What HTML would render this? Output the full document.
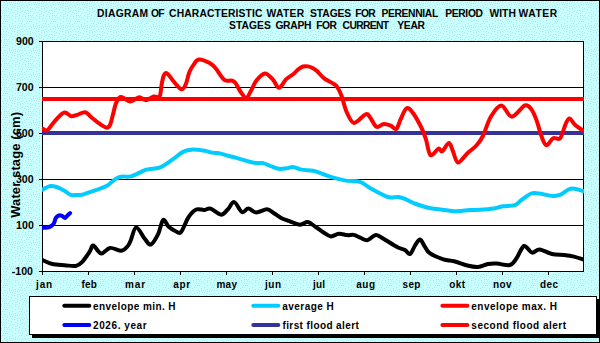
<!DOCTYPE html>
<html><head><meta charset="utf-8"><style>
html,body{margin:0;padding:0;width:600px;height:343px;overflow:hidden;background:#C6FBFC;}
svg{display:block;}
</style></head><body>
<svg width="600" height="343" viewBox="0 0 600 343">
<defs><clipPath id="pc"><rect x="42" y="41" width="542" height="231"/></clipPath></defs>
<rect x="0" y="0" width="600" height="343" fill="#000"/>
<defs><pattern id="bgp" width="24" height="24" patternUnits="userSpaceOnUse"><rect width="24" height="24" fill="#C8FFFF"/><path d="M0 0h1v1h-1zM0 6h1v1h-1zM0 12h1v1h-1zM1 2h1v1h-1zM1 10h1v1h-1zM1 16h1v1h-1zM1 18h1v1h-1zM2 5h1v1h-1zM2 13h1v1h-1zM2 23h1v1h-1zM3 7h1v1h-1zM3 10h1v1h-1zM3 21h1v1h-1zM4 2h1v1h-1zM4 13h1v1h-1zM4 15h1v1h-1zM4 17h1v1h-1zM4 19h1v1h-1zM4 23h1v1h-1zM5 4h1v1h-1zM5 21h1v1h-1zM6 1h1v1h-1zM6 7h1v1h-1zM6 9h1v1h-1zM6 11h1v1h-1zM6 15h1v1h-1zM6 19h1v1h-1zM7 3h1v1h-1zM7 5h1v1h-1zM7 17h1v1h-1zM7 21h1v1h-1zM8 8h1v1h-1zM8 15h1v1h-1zM9 0h1v1h-1zM9 2h1v1h-1zM9 13h1v1h-1zM9 17h1v1h-1zM9 19h1v1h-1zM10 4h1v1h-1zM11 2h1v1h-1zM11 9h1v1h-1zM11 18h1v1h-1zM12 4h1v1h-1zM12 7h1v1h-1zM12 12h1v1h-1zM12 15h1v1h-1zM12 20h1v1h-1zM12 23h1v1h-1zM13 2h1v1h-1zM14 5h1v1h-1zM14 7h1v1h-1zM14 12h1v1h-1zM15 1h1v1h-1zM15 3h1v1h-1zM15 10h1v1h-1zM15 14h1v1h-1zM15 16h1v1h-1zM15 18h1v1h-1zM15 21h1v1h-1zM17 3h1v1h-1zM17 6h1v1h-1zM17 8h1v1h-1zM17 11h1v1h-1zM17 13h1v1h-1zM17 16h1v1h-1zM18 1h1v1h-1zM18 18h1v1h-1zM18 20h1v1h-1zM19 3h1v1h-1zM19 6h1v1h-1zM19 15h1v1h-1zM19 23h1v1h-1zM20 8h1v1h-1zM20 10h1v1h-1zM20 12h1v1h-1zM20 20h1v1h-1zM21 5h1v1h-1zM21 23h1v1h-1zM22 2h1v1h-1zM22 7h1v1h-1zM22 11h1v1h-1zM22 16h1v1h-1zM22 19h1v1h-1zM22 21h1v1h-1zM23 4h1v1h-1zM23 14h1v1h-1z" fill="#B4E6F0"/></pattern></defs>
<rect x="1" y="1" width="598" height="341" fill="url(#bgp)"/>
<rect x="42" y="41" width="541" height="230" fill="#fff"/>
<rect x="42" y="41" width="542" height="1" fill="#000"/>
<rect x="42" y="87" width="542" height="1" fill="#000"/>
<rect x="42" y="133" width="542" height="1" fill="#000"/>
<rect x="42" y="179" width="542" height="1" fill="#000"/>
<rect x="42" y="225" width="542" height="1" fill="#000"/>
<rect x="42" y="271" width="542" height="1" fill="#000"/>
<rect x="42" y="41" width="1" height="231" fill="#000"/>
<rect x="583" y="41" width="1" height="231" fill="#000"/>
<rect x="39" y="41" width="3" height="1" fill="#000"/>
<rect x="39" y="87" width="3" height="1" fill="#000"/>
<rect x="39" y="133" width="3" height="1" fill="#000"/>
<rect x="39" y="179" width="3" height="1" fill="#000"/>
<rect x="39" y="225" width="3" height="1" fill="#000"/>
<rect x="39" y="271" width="3" height="1" fill="#000"/>
<rect x="42" y="272" width="1" height="3" fill="#000"/>
<rect x="88" y="272" width="1" height="3" fill="#000"/>
<rect x="134" y="272" width="1" height="3" fill="#000"/>
<rect x="180" y="272" width="1" height="3" fill="#000"/>
<rect x="226" y="272" width="1" height="3" fill="#000"/>
<rect x="272" y="272" width="1" height="3" fill="#000"/>
<rect x="318" y="272" width="1" height="3" fill="#000"/>
<rect x="364" y="272" width="1" height="3" fill="#000"/>
<rect x="410" y="272" width="1" height="3" fill="#000"/>
<rect x="456" y="272" width="1" height="3" fill="#000"/>
<rect x="502" y="272" width="1" height="3" fill="#000"/>
<rect x="548" y="272" width="1" height="3" fill="#000"/>
<g clip-path="url(#pc)" fill="none" stroke-width="4" stroke-linejoin="round" stroke-linecap="round">
<path d="M42,133 L584,133" stroke="#333399" stroke-linecap="butt"/>
<path d="M42,99 L584,99" stroke="#FF0000" stroke-linecap="butt"/>
<path d="M42.6,189.6 C43.8,189.0 47.3,186.5 49.6,186.1 C51.9,185.7 54.1,186.2 56.6,187.0 C59.1,187.8 62.2,189.5 64.5,190.8 C66.8,192.1 68.7,194.1 70.6,194.8 C72.5,195.5 74.1,195.0 76.0,195.0 C77.9,195.0 79.3,195.4 82.0,194.8 C84.7,194.2 88.3,192.8 92.4,191.3 C96.5,189.9 102.6,188.1 106.4,186.1 C110.2,184.1 112.6,180.7 115.2,179.1 C117.8,177.5 119.6,176.9 122.2,176.5 C124.8,176.1 127.0,177.5 131.0,176.4 C135.0,175.3 141.7,171.2 146.4,169.7 C151.2,168.2 155.3,169.2 159.5,167.6 C163.7,166.0 167.8,162.7 171.7,160.1 C175.6,157.5 179.6,153.7 183.1,151.9 C186.6,150.2 189.1,149.8 192.7,149.6 C196.3,149.4 201.7,150.3 204.9,150.8 C208.1,151.3 209.3,152.1 211.9,152.6 C214.5,153.1 218.1,153.1 220.7,153.6 C223.3,154.1 225.2,155.0 227.7,155.7 C230.2,156.4 232.0,156.6 235.5,157.6 C239.0,158.6 245.2,160.6 248.7,161.5 C252.2,162.4 254.1,162.8 256.5,163.1 C258.9,163.4 260.7,162.6 263.1,163.1 C265.5,163.6 268.3,165.2 270.9,166.2 C273.5,167.1 276.2,168.5 278.8,168.8 C281.4,169.2 284.3,168.6 286.7,168.3 C289.1,168.0 290.8,166.8 293.2,167.0 C295.6,167.2 297.8,169.0 301.1,169.6 C304.4,170.2 309.8,170.1 313.1,170.7 C316.4,171.3 317.9,172.2 321.0,173.3 C324.1,174.4 327.4,176.0 331.5,177.2 C335.6,178.4 341.1,179.8 345.9,180.6 C350.6,181.4 355.9,180.5 360.0,181.8 C364.1,183.1 366.2,186.0 370.8,188.5 C375.4,191.0 383.2,195.6 387.8,197.0 C392.4,198.4 395.3,196.6 398.3,197.0 C401.3,197.4 403.1,198.2 406.0,199.4 C408.9,200.6 412.2,202.6 416.0,204.0 C419.8,205.4 424.9,207.1 429.0,208.0 C433.1,208.9 436.1,208.9 440.7,209.5 C445.3,210.1 451.8,211.2 456.7,211.3 C461.6,211.4 466.1,210.2 470.0,210.0 C473.9,209.8 476.0,210.0 480.0,209.8 C484.0,209.6 490.1,209.2 493.9,208.6 C497.6,208.0 499.0,206.9 502.5,206.3 C506.0,205.7 511.5,206.2 514.7,205.1 C517.9,204.0 518.9,201.8 521.6,199.9 C524.3,198.0 528.2,194.6 531.1,193.5 C534.0,192.4 535.3,193.1 538.9,193.5 C542.5,193.9 549.2,195.7 552.8,195.9 C556.4,196.1 558.0,195.8 560.6,194.7 C563.2,193.6 566.1,190.5 568.4,189.5 C570.7,188.5 571.9,188.4 574.5,188.7 C577.1,189.0 582.4,190.9 584.0,191.3" stroke="#00CCFF"/>
<path d="M42.6,260.1 C44.2,260.8 48.6,263.1 52.2,264.0 C55.9,264.9 60.6,264.9 64.5,265.2 C68.4,265.5 72.9,266.5 75.8,266.0 C78.7,265.5 79.7,264.6 82.0,262.2 C84.3,259.8 87.9,254.2 89.8,251.4 C91.7,248.6 91.4,245.2 93.3,245.6 C95.2,245.9 98.4,253.1 101.2,253.5 C104.0,253.9 106.7,248.3 110.0,247.9 C113.3,247.5 118.4,251.0 121.3,250.8 C124.2,250.6 125.9,248.1 127.4,246.5 C128.9,244.9 129.0,244.2 130.5,241.0 C132.0,237.8 133.8,227.8 136.2,227.5 C138.6,227.2 142.5,236.2 144.9,239.0 C147.3,241.8 148.6,245.3 150.8,244.5 C153.0,243.7 155.9,238.4 158.0,234.3 C160.1,230.2 161.4,221.2 163.2,219.9 C164.9,218.6 166.5,224.7 168.5,226.5 C170.5,228.3 173.1,230.1 175.2,231.0 C177.3,231.9 178.8,234.3 181.0,232.0 C183.2,229.7 185.9,221.1 188.4,217.3 C190.9,213.6 193.6,210.7 196.2,209.5 C198.8,208.3 201.7,210.1 204.1,210.0 C206.5,209.9 207.8,207.9 210.6,208.7 C213.4,209.5 218.2,214.6 221.1,214.7 C223.9,214.8 225.5,211.6 227.7,209.5 C229.9,207.4 231.8,201.7 234.2,202.1 C236.6,202.5 239.6,210.9 242.0,212.0 C244.4,213.1 246.0,208.5 248.4,208.6 C250.8,208.7 253.1,212.4 256.2,212.5 C259.3,212.6 264.1,209.2 267.0,209.3 C269.9,209.4 271.3,211.6 273.6,213.0 C275.9,214.4 278.1,216.3 280.7,217.7 C283.3,219.1 286.2,220.0 289.4,221.2 C292.6,222.4 296.9,224.5 300.0,224.7 C303.1,224.8 305.2,221.7 307.8,222.1 C310.4,222.5 313.1,225.3 315.7,227.0 C318.3,228.7 321.1,230.9 323.6,232.5 C326.1,234.1 328.4,236.2 330.9,236.4 C333.4,236.6 336.1,234.0 338.8,233.8 C341.5,233.6 344.7,234.9 347.2,235.1 C349.7,235.3 351.5,234.5 353.7,234.9 C355.9,235.3 358.0,236.8 360.3,237.7 C362.6,238.6 365.0,240.6 367.6,240.1 C370.2,239.6 373.3,235.1 376.0,234.9 C378.7,234.7 380.4,237.0 383.9,239.0 C387.4,241.0 393.5,245.1 397.0,246.9 C400.5,248.8 402.7,248.9 404.9,250.1 C407.1,251.3 408.4,254.9 410.1,254.0 C411.9,253.1 413.7,247.2 415.4,244.8 C417.1,242.4 418.6,239.4 420.1,239.6 C421.6,239.8 422.9,243.8 424.5,246.1 C426.1,248.4 426.7,251.0 429.8,253.2 C432.9,255.4 439.3,258.0 443.3,259.3 C447.3,260.6 450.0,260.2 454.0,261.2 C458.0,262.2 463.3,264.5 467.3,265.5 C471.3,266.5 474.6,267.2 478.0,267.0 C481.4,266.8 484.8,264.6 488.0,264.0 C491.2,263.4 493.3,263.4 497.0,263.6 C500.7,263.8 506.7,265.9 510.0,265.0 C513.3,264.1 514.4,261.2 516.7,258.0 C519.0,254.8 521.5,246.9 524.0,246.0 C526.5,245.1 529.4,252.0 532.0,252.6 C534.6,253.2 536.3,249.2 539.6,249.4 C542.9,249.6 547.9,253.1 552.0,254.0 C556.1,254.9 560.3,254.6 564.0,255.0 C567.7,255.4 570.8,255.8 574.0,256.6 C577.2,257.4 581.9,259.1 583.5,259.6" stroke="#000000"/>
<path d="M42.6,128.5 C43.4,128.8 45.3,131.4 47.3,130.2 C49.3,129.0 51.8,124.2 54.6,121.3 C57.4,118.4 61.2,113.4 64.0,112.6 C66.8,111.8 69.1,115.8 71.3,116.2 C73.5,116.6 74.9,115.5 77.2,114.8 C79.5,114.1 82.9,111.8 85.2,112.2 C87.5,112.6 88.8,115.2 91.0,117.0 C93.2,118.8 95.8,121.0 98.3,122.8 C100.8,124.6 104.3,127.2 106.3,127.6 C108.2,128.0 108.9,127.1 110.0,125.0 C111.1,122.9 111.9,118.3 112.9,114.8 C113.9,111.3 114.7,106.7 115.8,103.8 C116.9,100.9 118.3,98.7 119.4,97.6 C120.5,96.5 120.6,96.7 122.4,97.3 C124.2,97.9 127.6,101.4 130.4,101.4 C133.2,101.4 136.6,97.5 139.2,97.3 C141.8,97.1 143.3,100.3 145.7,100.2 C148.1,100.1 151.4,97.1 153.7,96.5 C156.0,95.9 158.3,98.5 159.6,96.5 C160.9,94.5 161.0,87.6 161.7,84.2 C162.4,80.8 162.7,77.8 163.6,76.0 C164.5,74.2 165.2,72.2 166.9,73.2 C168.7,74.2 171.7,79.3 174.1,82.0 C176.5,84.7 179.4,88.9 181.4,89.3 C183.4,89.7 184.5,87.1 185.8,84.2 C187.1,81.3 188.1,75.2 189.4,71.9 C190.7,68.6 192.1,66.7 193.7,64.6 C195.3,62.5 196.1,59.8 198.8,59.5 C201.5,59.2 207.0,61.6 209.8,63.1 C212.6,64.5 213.2,65.4 215.6,68.2 C218.0,71.0 221.7,77.8 224.4,79.9 C227.1,82.0 229.8,80.1 231.6,80.6 C233.4,81.1 233.8,81.0 235.3,82.8 C236.8,84.6 238.6,89.0 240.4,91.5 C242.2,94.0 244.5,98.1 246.2,98.1 C247.9,98.1 248.9,94.4 250.6,91.5 C252.3,88.6 254.0,83.6 256.4,80.6 C258.8,77.6 262.2,73.6 265.0,73.5 C267.8,73.4 270.8,77.4 273.1,79.8 C275.4,82.2 276.8,87.9 279.0,87.8 C281.2,87.7 283.8,81.4 286.2,79.1 C288.6,76.8 291.5,75.6 293.5,74.0 C295.5,72.4 296.4,70.8 298.0,69.5 C299.6,68.2 301.3,67.0 303.0,66.5 C304.7,66.0 306.4,66.1 308.1,66.4 C309.8,66.7 311.5,67.5 313.0,68.3 C314.5,69.1 315.0,69.3 316.9,71.0 C318.8,72.7 321.4,76.2 324.1,78.3 C326.8,80.4 330.7,81.9 332.9,83.4 C335.1,84.9 335.9,85.0 337.3,87.1 C338.8,89.2 340.0,91.8 341.6,96.0 C343.2,100.2 344.6,107.6 346.7,112.1 C348.8,116.6 350.9,122.5 354.0,122.9 C357.1,123.3 362.9,115.2 365.6,114.3 C368.3,113.3 368.2,115.1 370.0,117.2 C371.8,119.3 374.2,125.7 376.5,126.8 C378.8,127.9 381.5,124.1 383.8,123.9 C386.1,123.7 388.3,124.6 390.4,125.4 C392.5,126.2 394.5,130.0 396.2,129.0 C397.9,128.0 398.9,122.8 400.6,119.4 C402.3,116.0 404.4,109.6 406.4,108.4 C408.3,107.2 409.9,109.2 412.3,112.1 C414.7,115.0 418.3,121.5 420.6,126.0 C422.9,130.5 424.2,134.2 425.9,139.1 C427.5,144.0 428.4,153.6 430.5,155.2 C432.6,156.8 436.4,149.3 438.4,148.7 C440.4,148.0 440.6,152.3 442.3,151.3 C444.0,150.3 447.1,143.0 448.8,142.9 C450.6,142.8 451.3,147.5 452.8,150.8 C454.3,154.1 455.6,162.1 458.0,162.5 C460.4,162.9 464.1,156.2 467.2,153.4 C470.3,150.6 473.8,148.4 476.4,145.5 C479.0,142.6 480.5,140.8 482.9,136.0 C485.3,131.2 487.7,121.8 490.8,116.7 C493.9,111.6 497.8,105.4 501.3,105.4 C504.8,105.4 507.9,116.7 511.8,116.7 C515.7,116.7 521.6,106.6 524.9,105.4 C528.2,104.2 529.6,107.0 531.6,109.6 C533.6,112.2 535.0,116.2 536.7,120.8 C538.4,125.4 540.2,133.0 541.8,137.1 C543.4,141.2 544.6,145.1 546.5,145.3 C548.4,145.5 550.8,139.4 553.1,138.2 C555.4,137.0 558.2,140.4 560.2,138.2 C562.2,136.0 563.8,128.2 565.3,124.9 C566.8,121.6 567.7,118.3 569.4,118.4 C571.1,118.5 573.2,123.3 575.5,125.3 C577.8,127.3 581.8,129.6 583.0,130.5" stroke="#FF0000"/>
<path d="M42.6,227.8 C43.4,227.8 45.8,227.9 47.2,227.6 C48.7,227.3 50.2,226.7 51.3,226.0 C52.4,225.3 53.0,224.8 53.8,223.5 C54.6,222.2 55.0,219.3 55.9,217.9 C56.8,216.5 57.9,215.7 58.9,215.3 C59.9,215.0 61.0,215.4 62.0,215.8 C63.0,216.2 64.1,218.0 65.0,217.9 C65.9,217.8 66.8,216.1 67.6,215.3 C68.4,214.5 69.7,213.5 70.1,213.1" stroke="#0000FF"/>
</g>
<g font-family='"Liberation Sans", sans-serif' font-weight="bold" fill="#000">
<text x="97.05" y="16.7" font-size="10.3" letter-spacing="0.325">DIAGRAM</text>
<text x="151.00" y="16.7" font-size="10.3" letter-spacing="-0.7">OF</text>
<text x="169.10" y="16.7" font-size="10.3" letter-spacing="0.14">CHARACTERISTIC</text>
<text x="266.50" y="16.7" font-size="10.3" letter-spacing="0.29">WATER</text>
<text x="310.10" y="16.7" font-size="10.3" letter-spacing="-0.09">STAGES</text>
<text x="355.25" y="16.7" font-size="10.3" letter-spacing="-0.62">FOR</text>
<text x="381.45" y="16.7" font-size="10.3" letter-spacing="-0.34">PERENNIAL</text>
<text x="445.25" y="16.7" font-size="10.3" letter-spacing="-0.35">PERIOD</text>
<text x="489.50" y="16.7" font-size="10.3" letter-spacing="0.02">WITH</text>
<text x="518.50" y="16.7" font-size="10.3" letter-spacing="0.54">WATER</text>
<text x="229.00" y="28.6" font-size="10.3" letter-spacing="0.07">STAGES</text>
<text x="275.40" y="28.6" font-size="10.3" letter-spacing="-0.28">GRAPH</text>
<text x="316.25" y="28.6" font-size="10.3" letter-spacing="-0.47">FOR</text>
<text x="342.60" y="28.6" font-size="10.3" letter-spacing="-0.65">CURRENT</text>
<text x="397.25" y="28.6" font-size="10.3" letter-spacing="-0.28">YEAR</text>
<text x="16.00" y="45.0" font-size="10.6">900</text>
<text x="15.90" y="91.0" font-size="10.6">700</text>
<text x="15.90" y="137.0" font-size="10.6">500</text>
<text x="15.90" y="183.0" font-size="10.6">300</text>
<text x="16.10" y="229.0" font-size="10.6">100</text>
<text x="11.75" y="275.0" font-size="10.6">-100</text>
<text x="36.12" y="288" font-size="10" letter-spacing="0.75">jan</text>
<text x="81.47" y="288" font-size="10" letter-spacing="0.15">feb</text>
<text x="124.98" y="288" font-size="10" letter-spacing="0.888">mar</text>
<text x="173.15" y="288" font-size="10" letter-spacing="0.737">apr</text>
<text x="216.38" y="288" font-size="10" letter-spacing="0.312">may</text>
<text x="265.12" y="288" font-size="10" letter-spacing="0.45">jun</text>
<text x="313.12" y="288" font-size="10" letter-spacing="0.137">jul</text>
<text x="356.15" y="288" font-size="10" letter-spacing="0.562">aug</text>
<text x="402.62" y="288" font-size="10" letter-spacing="0.25">sep</text>
<text x="449.22" y="288" font-size="10" letter-spacing="0.45">okt</text>
<text x="492.98" y="288" font-size="10" letter-spacing="0.438">nov</text>
<text x="540.02" y="288" font-size="10" letter-spacing="0.35">dec</text>
<text transform="translate(19.9,217.8) rotate(-90)" font-size="13" letter-spacing="0.1">Water stage (cm)</text>
</g>
<rect x="32" y="299" width="568" height="39" fill="#000"/>
<rect x="29" y="296" width="568" height="39" fill="#000"/>
<rect x="30" y="297" width="566" height="37" fill="#fff"/>
<g font-family='"Liberation Sans", sans-serif' font-weight="bold" fill="#000" font-size="10">
<path d="M64.3,305.7 L89.3,305.7" stroke="#000000" stroke-width="4" stroke-linecap="round"/>
<text x="93.12" y="309.7" letter-spacing="0.413">envelope min. H</text>
<path d="M253.3,305.7 L278.3,305.7" stroke="#00CCFF" stroke-width="4" stroke-linecap="round"/>
<text x="282.35" y="309.7" letter-spacing="0.441">average H</text>
<path d="M442.4,305.7 L467.4,305.7" stroke="#FF0000" stroke-width="4" stroke-linecap="round"/>
<text x="471.32" y="309.7" letter-spacing="0.487">envelope max. H</text>
<path d="M64.3,324.9 L89.3,324.9" stroke="#0000FF" stroke-width="4" stroke-linecap="round"/>
<text x="93.12" y="328.9" letter-spacing="0.569">2026. year</text>
<path d="M253.3,324.9 L278.3,324.9" stroke="#333399" stroke-width="4" stroke-linecap="round"/>
<text x="282.48" y="328.9" letter-spacing="0.397">first flood alert</text>
<path d="M442.4,324.9 L467.4,324.9" stroke="#FF0000" stroke-width="4" stroke-linecap="round"/>
<text x="471.32" y="328.9" letter-spacing="0.51">second flood alert</text>
</g>
</svg>
</body></html>
